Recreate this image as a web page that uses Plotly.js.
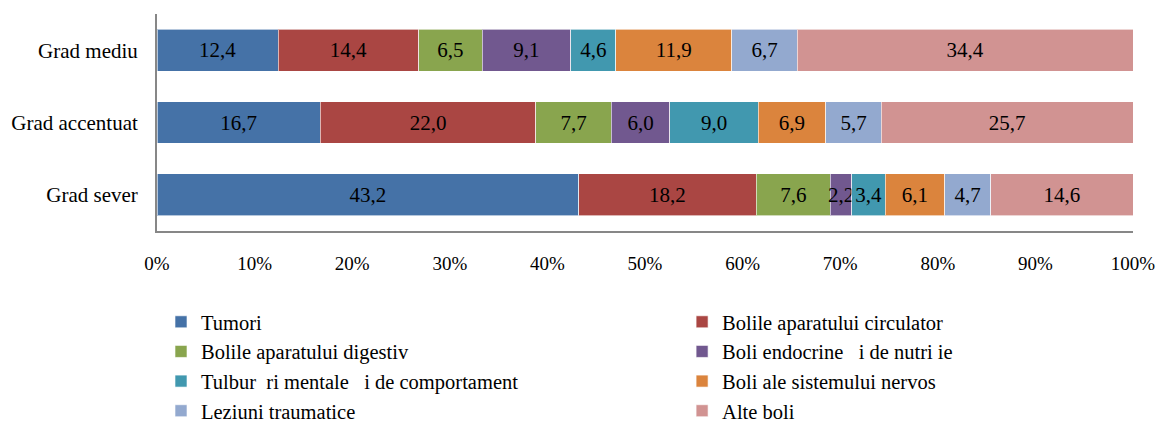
<!DOCTYPE html>
<html>
<head>
<meta charset="utf-8">
<script src="https://cdn.plot.ly/plotly-3.0.1.min.js"></script>
<style>
  html, body { margin: 0; padding: 0; background: #fff; }
  #plot { width: 1161px; height: 423px; }
</style>
</head>
<body>
<div id="plot"></div>
<script>
// Categories (top to bottom)
const categories = ['Grad mediu', 'Grad accentuat', 'Grad sever'];

// Series names, in stacking order
const seriesNames = [
    'Tumori',
    'Bolile aparatului circulator',
    'Bolile aparatului digestiv',
    'Boli endocrine   i de nutri ie',
    'Tulbur  ri mentale   i de comportament',
    'Boli ale sistemului nervos',
    'Leziuni traumatice',
    'Alte boli'
];

// Values per series (mediu, accentuat, sever)
const tumori      = [12.4, 16.7, 43.2];
const circulator  = [14.4, 22.0, 18.2];
const digestiv    = [6.5, 7.7, 7.6];
const endocrine   = [9.1, 6.0, 2.2];
const mentale     = [4.6, 9.0, 3.4];
const nervos      = [11.9, 6.9, 6.1];
const traumatice  = [6.7, 5.7, 4.7];
const alteBoli    = [34.4, 25.7, 14.6];

const seriesValues = [tumori, circulator, digestiv, endocrine, mentale, nervos, traumatice, alteBoli];

// Excel 2007 palette
const colors = ['#4572A7', '#AA4643', '#89A54E', '#71588F', '#4198AF', '#DB843D', '#93A9CF', '#D19392'];

// Which legend column each series goes in
const legendCols = ['legend', 'legend2', 'legend', 'legend2', 'legend', 'legend2', 'legend', 'legend2'];

const serif = 'Liberation Serif';

const traces = seriesNames.map((name, i) => ({
    type: 'bar',
    orientation: 'h',
    name: name,
    y: categories,
    x: seriesValues[i],
    text: seriesValues[i].map(v => v.toFixed(1).replace('.', ',')),
    textposition: 'inside',
    insidetextanchor: 'middle',
    constraintext: 'none',
    textangle: 0,
    textfont: { family: serif, size: 21, color: '#000' },
    marker: { color: colors[i], line: { color: 'rgba(255,255,255,0.6)', width: 1 } },
    legend: legendCols[i],
    showlegend: true,
    hoverinfo: 'skip'
}));

const layout = {
    barmode: 'stack',
    barnorm: 'percent',
    bargap: 0.42,
    showlegend: true,
    paper_bgcolor: '#fff',
    plot_bgcolor: '#fff',
    margin: { l: 157, r: 28, t: 14, b: 192, pad: 0, autoexpand: false },
    font: { family: serif, color: '#000' },
    xaxis: {
        range: [0, 100],
        dtick: 10,
        ticksuffix: '%',
        tickangle: 0,
        showgrid: false,
        zeroline: false,
        showline: true,
        linecolor: '#878787',
        linewidth: 2,
        ticks: '',
        ticklabelstandoff: 14,
        tickfont: { family: serif, size: 19, color: '#000' },
        fixedrange: true
    },
    yaxis: {
        autorange: 'reversed',
        showgrid: false,
        zeroline: false,
        showline: true,
        linecolor: '#878787',
        linewidth: 2,
        ticks: '',
        ticklabelstandoff: 13,
        tickfont: { family: serif, size: 21, color: '#000' },
        fixedrange: true
    },
    // one legend per column, below the plot (paper coords)
    legend: {
        x: 0.0041, y: -0.327, xanchor: 'left', yanchor: 'top',
        traceorder: 'normal',
        font: { family: serif, size: 20.5 }
    },
    legend2: {
        x: 0.538, y: -0.327, xanchor: 'left', yanchor: 'top',
        traceorder: 'normal',
        font: { family: serif, size: 20.5 }
    }
};

const config = { displayModeBar: false, staticPlot: true };

Plotly.newPlot('plot', traces, layout, config);
</script>
</body>
</html>
